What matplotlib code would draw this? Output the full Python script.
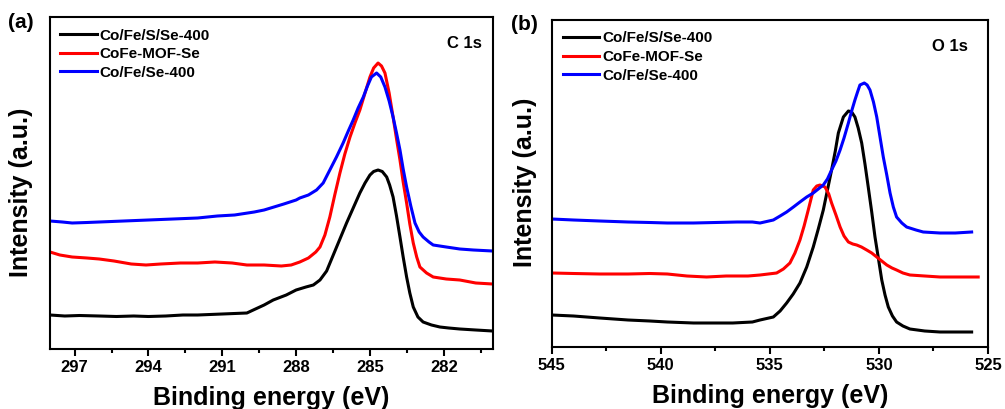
import numpy as np
import matplotlib
matplotlib.use("Agg")
import matplotlib.pyplot as plt
from matplotlib.ticker import MultipleLocator

plt.rcParams['font.family'] = ['Liberation Sans', 'DejaVu Sans']
plt.rcParams['font.weight'] = 'bold'

labels = ["Co/Fe/S/Se-400", "CoFe-MOF-Se", "Co/Fe/Se-400"]
colors = ["black", "red", "blue"]

# ---------- (a) C 1s ----------
c_black_x = [298.0, 297.4, 296.8, 296.0, 295.3, 294.6, 294.0, 293.3, 292.6, 292.0, 291.0, 290.0,
             289.74, 289.3, 288.93, 288.4, 288.0, 287.6, 287.3, 287.03, 286.76, 286.49, 286.22,
             285.95, 285.68, 285.41, 285.2, 285.0, 284.85, 284.67, 284.5, 284.32, 284.2, 284.06,
             283.92, 283.78, 283.65, 283.51, 283.38, 283.24, 283.05, 282.84, 282.5, 282.16,
             281.8, 281.35, 280.7, 280.02]
c_black_y = [34, 33, 33.5, 33, 32.5, 33, 32.5, 33, 34, 34, 35, 36,
             39, 44, 49, 54, 59, 62, 64, 69, 78, 94, 110,
             126, 141, 156, 166, 174, 177.5, 179, 177.5, 172, 164, 152,
             133, 112, 92, 72, 56, 42, 32, 27, 24, 22,
             21, 20, 19, 18]

c_red_x = [298.0, 297.6, 297.1, 296.5, 296.0, 295.4, 294.7, 294.1, 293.5, 292.7, 292.0, 291.3,
           290.6, 290.0, 289.3, 288.6, 288.2, 287.85, 287.5, 287.2, 287.03, 286.83, 286.63,
           286.43, 286.22, 286.02, 285.81, 285.61, 285.41, 285.2, 285.0, 284.85, 284.67, 284.53,
           284.39, 284.22, 284.06, 283.92, 283.78, 283.65, 283.51, 283.38, 283.24, 283.1,
           282.97, 282.7, 282.43, 281.9, 281.35, 280.7, 280.02]
c_red_y = [97, 94, 92, 91, 90, 88, 85, 84, 85, 86, 86, 87,
           86, 84, 84, 83, 84, 87, 91, 97, 102, 114, 132,
           154, 176, 195, 212, 226, 239, 256, 272, 281, 286, 283,
           276, 256, 232, 210, 189, 167, 146, 125, 106, 92,
           82, 76, 72, 70, 69, 66, 65]

c_blue_x = [298.0, 297.5, 297.1, 296.5, 296.0, 295.0, 294.0, 293.0, 292.0, 291.2, 290.5, 289.7,
            289.3, 288.9, 288.5, 288.0, 287.85, 287.5, 287.17, 286.9, 286.63, 286.36, 286.09,
            285.88, 285.68, 285.48, 285.27, 285.1, 284.94, 284.73, 284.56, 284.39, 284.22, 284.06,
            283.92, 283.78, 283.65, 283.51, 283.34, 283.17, 283.0, 282.84, 282.6, 282.43,
            281.9, 281.35, 280.8, 280.02]
c_blue_y = [128, 127, 126, 126.5, 127, 128, 129, 130, 131, 133, 134, 137,
            139, 142, 145, 149, 151, 154, 159, 166, 179, 192, 206,
            218, 229, 241, 252, 263, 272, 276, 272, 262, 248, 232,
            216, 199, 180, 162, 143, 126, 117, 112, 107, 104,
            102, 100, 99, 98]

# ---------- (b) O 1s ----------
o_black_x = [545.0, 544.0, 542.8, 541.5, 540.5, 539.7, 538.5, 537.5, 536.7, 535.8, 535.45,
             534.84, 534.53, 534.23, 533.93, 533.62, 533.31, 533.01, 532.78, 532.55, 532.36,
             532.17, 532.0, 531.86, 531.63, 531.4, 531.25, 531.1, 530.95, 530.79, 530.64,
             530.49, 530.33, 530.18, 530.02, 529.87, 529.72, 529.57, 529.38, 529.19, 528.9,
             528.58, 527.9, 527.2, 526.5, 525.75]
o_black_y = [32, 31, 29, 27, 26, 25, 24, 24, 24, 25, 27,
             30, 36, 44, 53, 64, 80, 100, 118, 137, 157,
             177, 196, 214, 230, 236, 235, 230, 219, 204, 183,
             160, 135, 110, 88, 67, 52, 40, 31, 25, 21,
             18, 16, 15, 15, 15]

o_red_x = [545.0, 544.0, 542.8, 541.5, 540.5, 539.7, 538.8, 537.9, 537.0, 536.0, 535.45,
           534.69, 534.38, 534.08, 533.85, 533.62, 533.43, 533.24, 533.01, 532.85, 532.7,
           532.47, 532.3, 532.17, 531.97, 531.78, 531.6, 531.4, 531.2, 531.02, 530.8,
           530.56, 530.33, 530.1, 529.87, 529.64, 529.4, 529.19, 528.9, 528.58, 527.9,
           527.2, 526.4, 525.45]
o_red_y = [74, 73.5, 73, 73, 73.5, 73, 71, 70, 71, 71, 72,
           74, 78, 84, 94, 107, 121, 137, 157, 161, 162,
           160, 153, 144, 132, 120, 111, 105, 103, 102, 100,
           97, 94, 90, 86, 82, 79, 77, 74, 72, 71,
           70, 70, 70]

o_blue_x = [545.0, 544.0, 542.8, 541.5, 540.5, 539.7, 538.5, 537.5, 536.5, 535.8, 535.45,
            534.84, 534.53, 534.23, 533.92, 533.62, 533.31, 533.01, 532.78, 532.55, 532.36,
            532.17, 531.97, 531.78, 531.6, 531.4, 531.25, 531.1, 530.98, 530.87, 530.67,
            530.54, 530.41, 530.25, 530.1, 529.95, 529.8, 529.64, 529.49, 529.34, 529.19,
            528.95, 528.73, 528.3, 527.97, 527.2, 526.5, 525.75]
o_blue_y = [128, 127, 126, 125, 124.5, 124, 124, 124.5, 125, 125, 124,
            127, 131, 135, 140, 145, 150, 154, 158, 162, 168,
            177, 186, 197, 209, 224, 236, 247, 255, 262, 264,
            262, 257, 245, 230, 210, 190, 172, 154, 140, 130,
            124, 120, 117, 115, 114, 114, 115]

fig = plt.figure(figsize=(10.05, 4.09), dpi=100)
ax1 = fig.add_axes([50/1005, 1-349/409, 443/1005, 332/409])
ax2 = fig.add_axes([551.7/1005, 1-347/409, 436.3/1005, 327/409])

for x, y, c, l in zip([c_black_x, c_red_x, c_blue_x], [c_black_y, c_red_y, c_blue_y], colors, labels):
    ax1.plot(x, y, color=c, lw=2.2, label=l, solid_joinstyle='round')
for x, y, c, l in zip([o_black_x, o_red_x, o_blue_x], [o_black_y, o_red_y, o_blue_y], colors, labels):
    ax2.plot(x, y, color=c, lw=2.2, label=l, solid_joinstyle='round')

ax1.set_xlim(298, 280)
ax1.set_ylim(0, 332)
ax1.xaxis.set_major_locator(MultipleLocator(3))
ax1.xaxis.set_minor_locator(MultipleLocator(1.5))
ax2.set_xlim(545, 525)
ax2.set_ylim(0, 327)
ax2.xaxis.set_major_locator(MultipleLocator(5))
ax2.xaxis.set_minor_locator(MultipleLocator(2.5))

for ax, core, cx, cy, lx, ylc in [(ax1, "C 1s", 0.975, 0.92, 0.0226, (-0.038, 0.473)),
                                  (ax2, "O 1s", 0.955, 0.92, 0.025, (-0.034, 0.505))]:
    ax.set_yticks([])
    for s in ax.spines.values():
        s.set_linewidth(1.5)
    ax.tick_params(axis='x', which='major', direction='out', length=5, width=1.5, labelsize=12, pad=3)
    ax.tick_params(axis='x', which='minor', direction='out', length=3, width=1.5)
    for t in ax.get_xticklabels():
        t.set_fontweight('bold')
    ax.set_xlabel("Binding energy (eV)", fontsize=18, fontweight='bold', labelpad=8)
    ax.set_ylabel("Intensity (a.u.)", fontsize=18, fontweight='bold')
    ax.yaxis.set_label_coords(*ylc)
    ax.text(cx, cy, core, transform=ax.transAxes, ha='right', va='center', fontsize=12, fontweight='bold')
    ax.legend(loc='upper left', bbox_to_anchor=(lx, 0.965), frameon=False,
              handlelength=2.4, handletextpad=0.2, labelspacing=0.3, borderpad=0, borderaxespad=0,
              prop={'weight': 'bold', 'size': 11})

fig.text(8/1005, 1-23/409, "(a)", fontsize=15, fontweight='bold', va='center', ha='left')
fig.text(511/1005, 1-25/409, "(b)", fontsize=15, fontweight='bold', va='center', ha='left')

fig.savefig("out.png", dpi=100)
